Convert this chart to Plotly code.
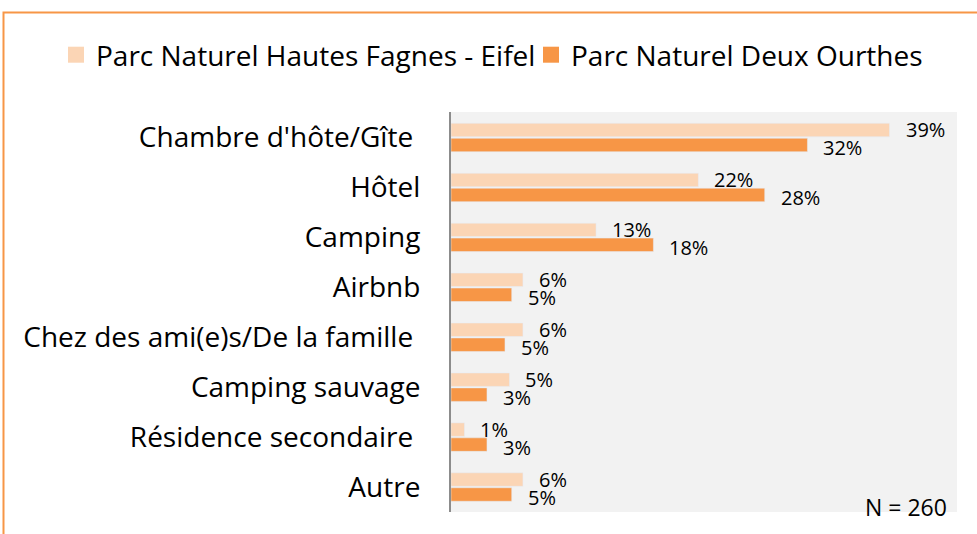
import plotly.graph_objects as go

# Hébergements utilisés (%)
categories = ["Chambre d'hôte/Gîte\u00a0", "Hôtel", "Camping", "Airbnb",
              "Chez des ami(e)s/De la famille\u00a0", "Camping sauvage",
              "Résidence secondaire\u00a0", "Autre"]
hautes_fagnes = [39.0, 22.0, 12.9, 6.4, 6.4, 5.2, 1.2, 6.4]
deux_ourthes = [31.7, 27.9, 18.0, 5.4, 4.8, 3.2, 3.2, 5.4]
series_names = ["Parc Naturel Hautes Fagnes - Eifel", "Parc Naturel Deux Ourthes"]
note = "N = 260"

FONT = "Open Sans"
light, dark = "#FBD5B5", "#F79646"

# zone de tracé (pixels)
L, R, T, B = 451, 957, 112, 512
W, H = 977, 534
pw, ph = R - L, B - T

fig = go.Figure()
for vals, col, name in [(hautes_fagnes, light, series_names[0]),
                        (deux_ourthes, dark, series_names[1])]:
    fig.add_trace(go.Bar(y=categories, x=vals, orientation="h",
                         marker=dict(color=col), name=name, showlegend=False))
    # entrée de légende avec un carré plus grand
    fig.add_trace(go.Scatter(x=[None], y=[None], mode="markers", name=name,
                             marker=dict(symbol="square", size=16, color=col)))

# étiquettes de données, décalées à droite des barres
for vals, ysh in [(hautes_fagnes, 8), (deux_ourthes, -10)]:
    for cat, v in zip(categories, vals):
        fig.add_annotation(x=v, y=cat, text=f"{v:.0f}%", showarrow=False,
                           xanchor="left", xshift=14, yshift=ysh,
                           font=dict(family=FONT, size=20, color="black"))

fig.add_annotation(xref="paper", yref="paper", x=(949 - L) / pw, y=(B - 507) / ph,
                   text=note, showarrow=False, xanchor="right", yanchor="middle",
                   font=dict(family=FONT, size=23, color="black"))

# cadre orange (coupé à droite et en bas)
fig.add_shape(type="rect", xref="paper", yref="paper",
              x0=(3.5 - L) / pw, x1=1.2, y0=-0.2, y1=1 + (T - 12.5) / ph,
              line=dict(color=dark, width=2), fillcolor="rgba(0,0,0,0)", layer="below")

fig.update_layout(
    width=W, height=H,
    margin=dict(l=L, r=W - R, t=T, b=H - B, autoexpand=False),
    paper_bgcolor="white", plot_bgcolor="#F2F2F2",
    barmode="group", bargap=0.4, bargroupgap=0.1,
    font=dict(family=FONT, color="black"),
    legend=dict(orientation="h", x=(56 - L) / pw, y=1 + (T - 55) / ph,
                xanchor="left", yanchor="middle",
                font=dict(family=FONT, size=28, color="black"),
                itemwidth=30, entrywidth=430, traceorder="normal"),
    xaxis=dict(range=[0, 45], showticklabels=False, showgrid=False,
               zeroline=False, fixedrange=True),
    yaxis=dict(autorange="reversed", showline=True, linecolor="#8C8C8C",
               linewidth=2, ticks="", ticklabelstandoff=23, fixedrange=True,
               tickfont=dict(family=FONT, size=28, color="black")),
)

fig.write_html("out.html", config={"displayModeBar": False},
               post_script="document.body.style.margin = '0';")
